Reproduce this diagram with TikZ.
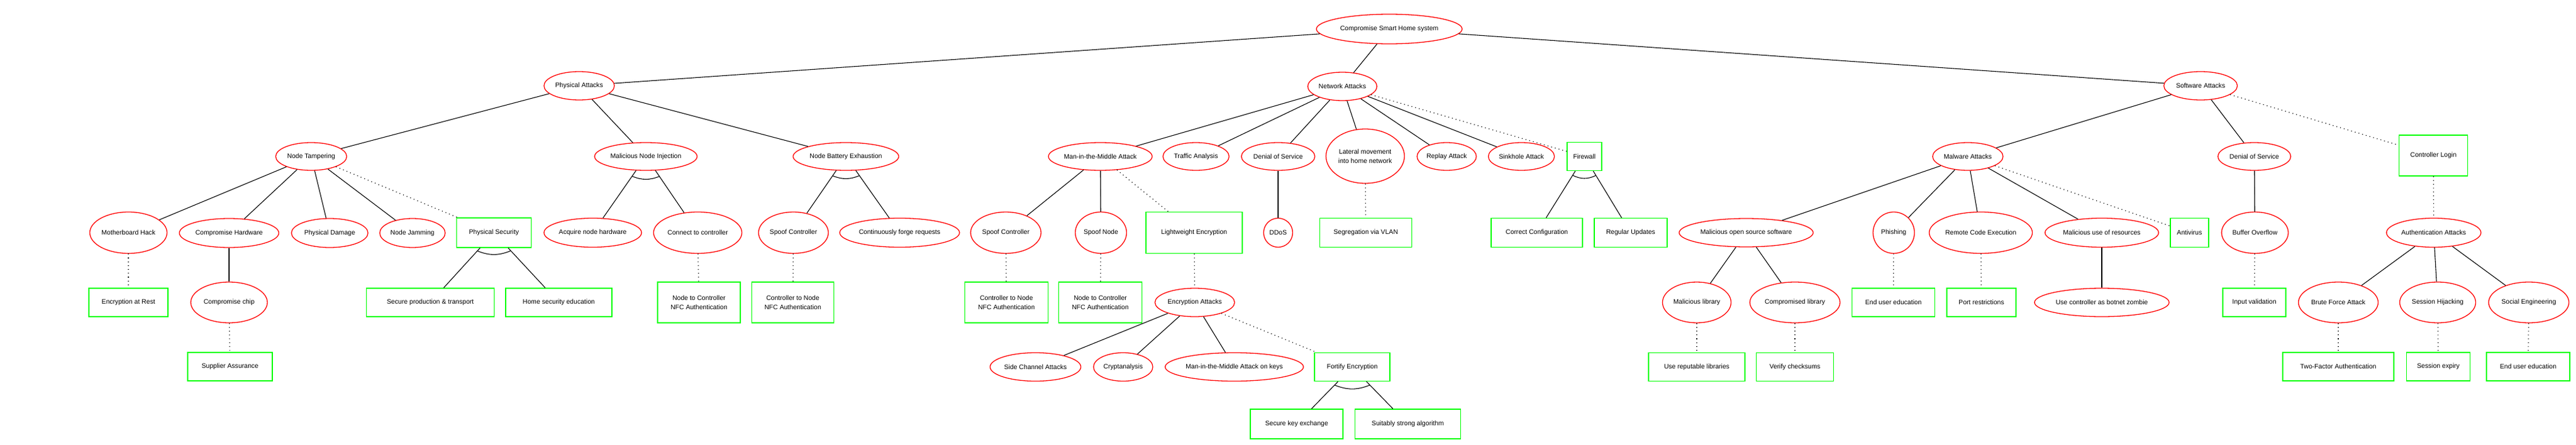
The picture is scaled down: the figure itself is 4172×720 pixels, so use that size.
\documentclass[tikz,border=0pt]{standalone}
\usepackage{fontspec}
\setmainfont{Liberation Sans}
\usetikzlibrary{shapes.geometric,calc}
\definecolor{atkred}{RGB}{255,0,0}
\definecolor{defgreen}{RGB}{0,255,0}
\tikzset{
  atk/.style 2 args={ellipse, draw=atkred, line width=1.3pt, inner sep=0pt,
    minimum width=#1pt, minimum height=#2pt, align=center,
    font=\fontsize{10.6}{15}\selectfont},
  dfn/.style 2 args={rectangle, draw=defgreen, line width=1.3pt, inner sep=0pt,
    minimum width=#1pt, minimum height=#2pt, align=center,
    font=\fontsize{10.6}{15}\selectfont},
  link/.style={draw=black, line width=1.1pt},
  mitig/.style={draw=black, line width=1.2pt, dash pattern=on 1.2pt off 5pt},
  andarc/.style={draw=black, line width=1.1pt}
}
\begin{document}
\begin{tikzpicture}[x=1pt,y=-1pt]
\useasboundingbox (0,0) rectangle (4172,720);
% row 0
\node[atk={236}{48}] (root) at (2250,47) {Compromise Smart Home system};
% row 1
\node[atk={114}{46}] (pa) at (938,139) {Physical Attacks};
\node[atk={112}{46}] (na) at (2174,140) {Network Attacks};
\node[atk={119}{46}] (sa) at (3564,139) {Software Attacks};
% row 2
\node[atk={115}{45}] (nt) at (504,253.5) {Node Tampering};
\node[atk={166}{45}] (mni) at (1046,253.5) {Malicious Node Injection};
\node[atk={171}{45}] (nbe) at (1370,253.5) {Node Battery Exhaustion};
\node[atk={168}{45}] (mitm) at (1782,253.5) {Man-in-the-Middle Attack};
\node[atk={107}{45}] (ta) at (1937,253.5) {Traffic Analysis};
\node[atk={119}{45}] (dos) at (2070,253.5) {Denial of Service};
\node[atk={127}{88}] (lat) at (2211,253) {Lateral movement\\into home network};
\node[atk={96}{45}] (ra) at (2343,253.5) {Replay Attack};
\node[atk={107}{45}] (sh) at (2464,253.5) {Sinkhole Attack};
\node[dfn={56}{46}] (fw) at (2566,253.5) {Firewall};
\node[atk={114}{45}] (ma) at (3187,253.5) {Malware Attacks};
\node[atk={118}{45}] (dos2) at (3651,253.5) {Denial of Service};
\node[dfn={111}{66}] (cl) at (3941,252) {Controller Login};
% row 3
\node[atk={125}{67}] (mh) at (208,377) {Motherboard Hack};
\node[atk={161}{47}] (ch) at (371,377.5) {Compromise Hardware};
\node[atk={124}{47}] (pd) at (534,377.5) {Physical Damage};
\node[atk={106}{47}] (nj) at (668,377.5) {Node Jamming};
\node[dfn={121}{48}] (ps) at (800,377) {Physical Security};
\node[atk={158}{47}] (anh) at (960,377) {Acquire node hardware};
\node[atk={143}{67}] (ctc) at (1130,377) {Connect to controller};
\node[atk={113}{67}] (sca) at (1285,377) {Spoof Controller};
\node[atk={194}{47}] (cfr) at (1457,377) {Continuously forge requests};
\node[atk={114}{67}] (scb) at (1629,377) {Spoof Controller};
\node[atk={83}{67}] (sn) at (1783,377) {Spoof Node};
\node[dfn={156}{67}] (lwe) at (1934,377) {Lightweight Encryption};
\node[atk={47}{47}] (ddos) at (2070,377) {DDoS};
\node[dfn={149}{47}] (vlan) at (2212,377) {Segregation via VLAN};
\node[dfn={148}{47}] (cc) at (2489,377) {Correct Configuration};
\node[dfn={118}{47}] (ru) at (2641,377) {Regular Updates};
\node[atk={217}{46}] (moss) at (2828,377) {Malicious open source software};
\node[atk={67}{67}] (ph) at (3067,377) {Phishing};
\node[atk={167}{67}] (rce) at (3208,377) {Remote Code Execution};
\node[atk={184}{47}] (mur) at (3404,377) {Malicious use of resources};
\node[dfn={62}{47}] (av) at (3546,377) {Antivirus};
\node[atk={108}{67}] (bo) at (3652,377) {Buffer Overflow};
\node[atk={153}{47}] (aa) at (3941.5,377) {Authentication Attacks};
% row 4
\node[dfn={128}{46}] (ear) at (208,490) {Encryption at Rest};
\node[atk={124}{66}] (cchip) at (371,490) {Compromise chip};
\node[dfn={207}{46}] (spt) at (697,490) {Secure production \& transport};
\node[dfn={172}{46}] (hse) at (905,490) {Home security education};
\node[dfn={134}{66}] (ncA) at (1132,490) {Node to Controller\\NFC Authentication};
\node[dfn={133}{66}] (cnA) at (1284,490) {Controller to Node\\NFC Authentication};
\node[dfn={135}{66}] (cnB) at (1630,490) {Controller to Node\\NFC Authentication};
\node[dfn={135}{66}] (ncB) at (1782,490) {Node to Controller\\NFC Authentication};
\node[atk={129}{46}] (ea) at (1935,490) {Encryption Attacks};
\node[atk={111}{66}] (ml) at (2748,490) {Malicious library};
\node[atk={146}{66}] (cpl) at (2907,490) {Compromised library};
\node[dfn={134}{46}] (eueA) at (3066.5,490) {End user education};
\node[dfn={112}{46}] (pr) at (3209,490) {Port restrictions};
\node[atk={218}{46}] (ucb) at (3404,490) {Use controller as botnet zombie};
\node[dfn={102}{46}] (iv) at (3651,490) {Input validation};
\node[atk={129}{66}] (bfa) at (3787,490) {Brute Force Attack};
\node[atk={123}{66}] (shj) at (3948,490) {Session Hijacking};
\node[atk={130}{66}] (se) at (4095.5,490) {Social Engineering};
% row 5
\node[dfn={137}{46}] (sup) at (372.5,594) {Supplier Assurance};
\node[atk={147}{46}] (sch) at (1677,594.5) {Side Channel Attacks};
\node[atk={96}{46}] (cry) at (1819,594.5) {Cryptanalysis};
\node[atk={224}{46}] (mok) at (1999,594.5) {Man-in-the-Middle Attack on keys};
\node[dfn={122}{46}] (fe) at (2190,594.5) {Fortify Encryption};
\node[dfn={156}{46}] (url) at (2748,594.5) {Use reputable libraries};
\node[dfn={125}{46}] (vc) at (2907,594.5) {Verify checksums};
\node[dfn={180}{46}] (tfa) at (3787,594) {Two-Factor Authentication};
\node[dfn={103}{46}] (sex) at (3949,594) {Session expiry};
\node[dfn={135}{46}] (eueB) at (4094.5,594) {End user education};
% row 6
\node[dfn={150}{48}] (ske) at (2100,687) {Secure key exchange};
\node[dfn={171}{48}] (ssa) at (2280,687) {Suitably strong algorithm};

% connectors
\path[link] (root) -- (pa) (root) -- (na) (root) -- (sa);
\path[link] (pa) -- (nt) (pa) -- (mni) (pa) -- (nbe);
\path[link] (nt) -- (mh) (nt) -- (ch) (nt) -- (pd) (nt) -- (nj);
\path[mitig] (nt) -- (ps);
\path[mitig] (mh) -- (ear);
\path[link] (ch) -- (cchip);
\path[mitig] (cchip) -- (sup);
\path[link] (ps) -- (spt) (ps) -- (hse);
\path[link] (mni) -- (anh) (mni) -- (ctc);
\path[mitig] (ctc) -- (ncA);
\path[link] (nbe) -- (sca) (nbe) -- (cfr);
\path[mitig] (sca) -- (cnA);
\path[link] (na) -- (mitm) (na) -- (ta) (na) -- (dos) (na) -- (lat) (na) -- (ra) (na) -- (sh);
\path[mitig] (na) -- (fw);
\path[link] (mitm) -- (scb) (mitm) -- (sn);
\path[mitig] (mitm) -- (lwe);
\path[mitig] (scb) -- (cnB);
\path[mitig] (sn) -- (ncB);
\path[mitig] (lwe) -- (ea);
\path[link] (ea) -- (sch) (ea) -- (cry) (ea) -- (mok);
\path[mitig] (ea) -- (fe);
\path[link] (fe) -- (ske) (fe) -- (ssa);
\path[link] (dos) -- (ddos);
\path[mitig] (lat) -- (vlan);
\path[link] (fw) -- (cc) (fw) -- (ru);
\path[link] (sa) -- (ma) (sa) -- (dos2);
\path[mitig] (sa) -- (cl);
\path[link] (ma) -- (moss) (ma) -- (ph) (ma) -- (rce) (ma) -- (mur);
\path[mitig] (ma) -- (av);
\path[link] (moss) -- (ml) (moss) -- (cpl);
\path[mitig] (ml) -- (url);
\path[mitig] (cpl) -- (vc);
\path[mitig] (ph) -- (eueA);
\path[mitig] (rce) -- (pr);
\path[link] (mur) -- (ucb);
\path[link] (dos2) -- (bo);
\path[mitig] (bo) -- (iv);
\path[mitig] (cl) -- (aa);
\path[link] (aa) -- (bfa) (aa) -- (shj) (aa) -- (se);
\path[mitig] (bfa) -- (tfa);
\path[mitig] (shj) -- (sex);
\path[mitig] (se) -- (eueB);

% AND arcs
\path[andarc] ($(ps)!40pt!(spt)$) to[bend right=22] ($(ps)!40pt!(hse)$);
\path[andarc] ($(mni)!39pt!(anh)$) to[bend right=22] ($(mni)!39pt!(ctc)$);
\path[andarc] ($(nbe)!38pt!(sca)$) to[bend right=22] ($(nbe)!38pt!(cfr)$);
\path[andarc] ($(fw)!36pt!(cc)$) to[bend right=26] ($(fw)!36pt!(ru)$);
\path[andarc] ($(fe)!41pt!(ske)$) to[bend right=22] ($(fe)!41pt!(ssa)$);
\end{tikzpicture}
\end{document}
